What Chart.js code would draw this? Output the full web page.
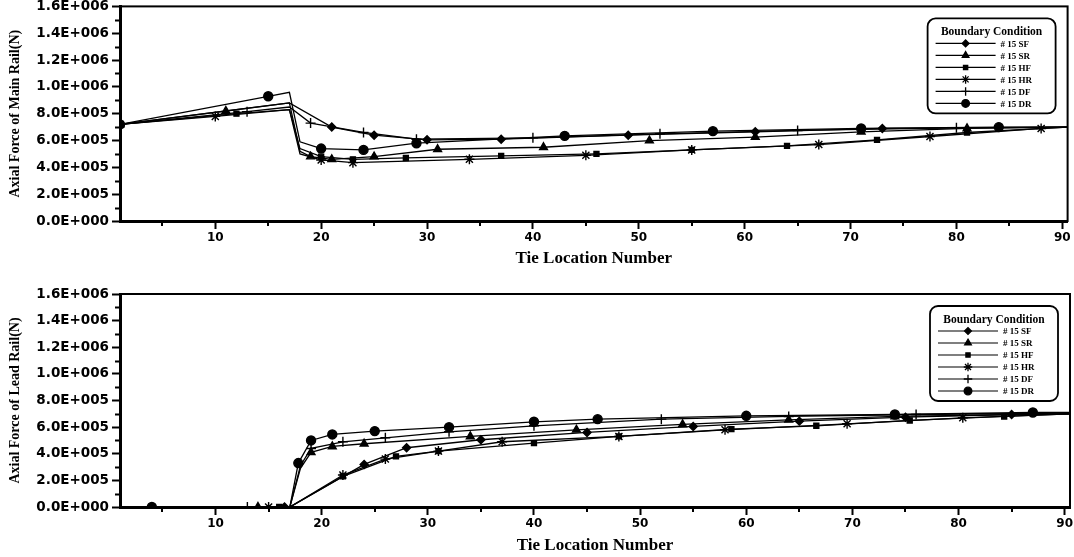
<!DOCTYPE html>
<html>
<head>
  <meta charset="utf-8">
  <title>Axial Force of Main and Lead Rail</title>
  <script src="https://cdn.jsdelivr.net/npm/chart.js"></script>
  <style>
    body { margin: 0; background: #fff; }
    canvas { display: block; }
  </style>
</head>
<body>
  <canvas id="mainRail" width="1074" height="287"></canvas>
  <canvas id="leadRail" width="1074" height="270"></canvas>

  <script>
    const seriesNames = ["#15SF", "#15SR", "#15HF", "#15HR", "#15DF", "#15DR"];
    const xTickValues = [10, 20, 30, 40, 50, 60, 70, 80, 90];
    const yTickValues = [0, 200000, 400000, 600000, 800000, 1000000, 1200000, 1400000, 1600000];

    // main rail - tie number / axial force (N)
    const mainTiesSF  = [1, 17, 21, 25, 30, 37, 49, 61, 73, 90.5];
    const mainForceSF = [720000, 880000, 700000, 640000, 605000, 610000, 640000, 665000, 690000, 700000];
    const mainTiesSR  = [1, 11, 17, 18, 19, 21, 25, 31, 41, 51, 61, 71, 81, 90.5];
    const mainForceSR = [720000, 820000, 880000, 520000, 480000, 460000, 480000, 535000, 550000, 600000, 625000, 665000, 690000, 700000];
    const mainTiesHF  = [1, 12, 17, 18, 20, 23, 28, 37, 46, 55, 64, 72.5, 81, 90.5];
    const mainForceHF = [720000, 800000, 830000, 540000, 480000, 460000, 470000, 485000, 500000, 530000, 560000, 605000, 660000, 700000];
    const mainTiesHR  = [1, 10, 17, 18, 20, 23, 34, 45, 55, 67, 77.5, 88, 90.5];
    const mainForceHR = [720000, 780000, 830000, 500000, 455000, 435000, 460000, 490000, 530000, 570000, 630000, 690000, 700000];
    const mainTiesDF  = [1, 13, 17, 19, 24, 29, 40, 52, 65, 80, 90.5];
    const mainForceDF = [720000, 815000, 850000, 730000, 660000, 610000, 620000, 650000, 675000, 695000, 700000];
    const mainTiesDR  = [1, 15, 17, 18, 20, 24, 29, 43, 57, 71, 84, 90.5];
    const mainForceDR = [720000, 930000, 960000, 590000, 540000, 530000, 580000, 635000, 670000, 690000, 700000, 700000];

    // lead rail - tie number / axial force (N)
    const leadTiesSF  = [1, 16.5, 17, 24, 28, 35, 45, 55, 65, 75, 85, 90.5];
    const leadForceSF = [0, 0, 0, 320000, 445000, 505000, 560000, 605000, 645000, 675000, 695000, 700000];
    const leadTiesSR  = [1, 14, 17, 18, 19, 21, 24, 34, 44, 54, 64, 74, 90.5];
    const leadForceSR = [0, 0, 0, 290000, 410000, 455000, 475000, 530000, 580000, 620000, 655000, 680000, 700000];
    const leadTiesHF  = [1, 16, 17, 22, 27, 31, 40, 48, 58.6, 66.6, 75.4, 84.3, 90.5];
    const leadForceHF = [0, 0, 0, 230000, 380000, 420000, 480000, 530000, 585000, 610000, 650000, 680000, 700000];
    const leadTiesHR  = [1, 15, 17, 22, 26, 31, 37, 48, 58, 69.5, 80.4, 90.5];
    const leadForceHR = [0, 0, 0, 240000, 360000, 420000, 490000, 530000, 580000, 625000, 670000, 700000];
    const leadTiesDF  = [1, 13, 17, 18, 19, 22, 26, 32, 40, 52, 64, 76, 90.5];
    const leadForceDF = [0, 0, 0, 310000, 440000, 490000, 520000, 565000, 610000, 660000, 680000, 695000, 705000];
    const leadTiesDR  = [1, 4, 17, 17.8, 19, 21, 25, 32, 40, 46, 60, 74, 87, 90.5];
    const leadForceDR = [0, 0, 0, 330000, 500000, 545000, 570000, 600000, 640000, 660000, 685000, 695000, 710000, 710000];

    const markerStyles = ["rectRot", "triangle", "rect", "star", "cross", "circle"];
    const markerSizes = [4, 4.5, 3.5, 5, 5, 4.5];
    // bends of the curves, drawn without a marker
    const plainTies = [17, 18, 90.5];

    // 1.6E+006 style labels
    function sci(v) {
      if (v === 0) return "0.0E+000";
      const e = Math.floor(Math.log10(v) + 1e-9);
      const m = v / Math.pow(10, e);
      return m.toFixed(1) + "E+" + String(e).padStart(3, "0");
    }

    // frame, minor ticks
    const framePlugin = {
      id: "frame",
      afterDraw(chart) {
        const { ctx, chartArea: a } = chart;
        const x = chart.scales.x, y = chart.scales.y;
        ctx.save();
        ctx.strokeStyle = "#000";
        ctx.lineWidth = 2;
        ctx.strokeRect(a.left, a.top, a.right - a.left, a.bottom - a.top);
        ctx.beginPath();
        for (let v = 100000; v < 1600000; v += 200000) {
          const py = Math.round(y.getPixelForValue(v)) + 0.5;
          ctx.moveTo(a.left - 5, py);
          ctx.lineTo(a.left, py);
        }
        for (let t = 5; t <= 90; t += 10) {
          const px = Math.round(x.getPixelForValue(t));
          ctx.moveTo(px, a.bottom);
          ctx.lineTo(px, a.bottom + 5);
        }
        ctx.stroke();
        ctx.restore();
      }
    };

    // rounded legend box inside the top right corner
    const boxLegend = {
      id: "boxLegend",
      afterDraw(chart) {
        const { ctx, chartArea: a } = chart;
        const w = 128, h = 95;
        const bx = a.right - 12 - w, by = a.top + 12;
        ctx.save();
        ctx.fillStyle = "#fff";
        ctx.strokeStyle = "#000";
        ctx.lineWidth = 1.8;
        ctx.beginPath();
        ctx.roundRect(bx, by, w, h, 8);
        ctx.fill();
        ctx.stroke();

        ctx.fillStyle = "#000";
        ctx.font = "bold 11.5px 'Liberation Serif'";
        ctx.textAlign = "center";
        ctx.textBaseline = "middle";
        ctx.fillText("Boundary Condition", bx + w / 2, by + 14);

        ctx.textAlign = "left";
        ctx.font = "bold 9px 'Liberation Serif'";
        chart.data.datasets.forEach((ds, i) => {
          const ry = by + 25 + i * 12;
          ctx.lineWidth = 1.2;
          ctx.beginPath();
          ctx.moveTo(bx + 8, ry);
          ctx.lineTo(bx + 68, ry);
          ctx.stroke();
          ctx.lineWidth = 1.3;
          Chart.helpers.drawPoint(ctx, {
            pointStyle: markerStyles[i], radius: markerSizes[i] * 0.85, rotation: 0, borderWidth: 1.3
          }, bx + 38, ry);
          ctx.fillText(ds.label.replace("#15", "# 15 "), bx + 73, ry + 1);
        });
        ctx.restore();
      }
    };

    function makeSets(ties, forces, hideStart) {
      return seriesNames.map((name, i) => ({
        label: name,
        data: ties[i].map((t, k) => ({ x: t, y: forces[i][k] })),
        borderColor: "#000",
        backgroundColor: "#000",
        borderWidth: 1.3,
        tension: 0,
        pointStyle: markerStyles[i],
        pointRadius: c => {
          const t = c.raw.x;
          return (plainTies.includes(t) || (hideStart && t === 1)) ? 0 : markerSizes[i];
        },
        pointBorderColor: "#000",
        pointBackgroundColor: "#000",
        pointBorderWidth: 1.4
      }));
    }

    function makeOptions(yTitle, topPad, axisHeight, titlePad) {
      return {
        responsive: false,
        animation: false,
        events: [],
        layout: { padding: { top: topPad, right: 4, left: 0, bottom: 0 } },
        plugins: { legend: { display: false }, tooltip: { enabled: false } },
        scales: {
          x: {
            type: "linear",
            min: 1,
            max: 90.5,
            afterBuildTicks: s => { s.ticks = xTickValues.map(v => ({ value: v })); },
            afterFit: s => { s.height = axisHeight; s.paddingLeft = 0; s.paddingRight = 0; },
            ticks: {
              autoSkip: false,
              maxRotation: 0,
              padding: 2,
              color: "#000",
              font: { family: "'DejaVu Sans'", size: 12, weight: "bold" }
            },
            grid: { drawOnChartArea: false, tickLength: 8, tickWidth: 2, tickColor: "#000" },
            border: { color: "#000", width: 3 },
            title: {
              display: true,
              text: "Tie Location Number",
              color: "#000",
              padding: { top: 0, bottom: titlePad },
              font: { family: "'Liberation Serif'", size: 17, weight: "bold" }
            }
          },
          y: {
            min: 0,
            max: 1600000,
            afterBuildTicks: s => { s.ticks = yTickValues.map(v => ({ value: v })); },
            afterFit: s => { s.width = 120; s.paddingTop = 0; s.paddingBottom = 0; },
            ticks: {
              autoSkip: false,
              padding: 3,
              color: "#000",
              callback: v => sci(v),
              font: { family: "'DejaVu Sans'", size: 13.5, weight: "bold" }
            },
            grid: { drawOnChartArea: false, tickLength: 8, tickWidth: 2, tickColor: "#000" },
            border: { color: "#000", width: 3 },
            title: {
              display: true,
              text: yTitle,
              color: "#000",
              padding: { top: 6.5 },
              font: { family: "'Liberation Serif'", size: 14, weight: "bold" }
            }
          }
        }
      };
    }

    new Chart(document.getElementById("mainRail"), {
      type: "line",
      data: {
        datasets: makeSets(
          [mainTiesSF, mainTiesSR, mainTiesHF, mainTiesHR, mainTiesDF, mainTiesDR],
          [mainForceSF, mainForceSR, mainForceHF, mainForceHR, mainForceDF, mainForceDR],
          false)
      },
      options: makeOptions("Axial Force of Main Rail(N)", 6, 66, 18),
      plugins: [framePlugin, boxLegend]
    });

    new Chart(document.getElementById("leadRail"), {
      type: "line",
      data: {
        datasets: makeSets(
          [leadTiesSF, leadTiesSR, leadTiesHF, leadTiesHR, leadTiesDF, leadTiesDR],
          [leadForceSF, leadForceSR, leadForceHF, leadForceHR, leadForceDF, leadForceDR],
          true)
      },
      options: makeOptions("Axial Force of Lead Rail(N)", 7, 50, 1.5),
      plugins: [framePlugin, boxLegend]
    });
  </script>
</body>
</html>
